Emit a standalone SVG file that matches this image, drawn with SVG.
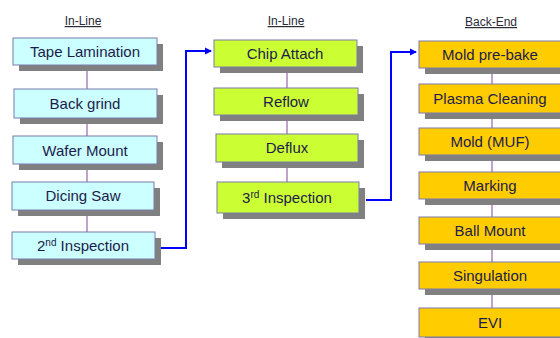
<svg xmlns="http://www.w3.org/2000/svg" width="560" height="338" viewBox="0 0 560 338">
<style>
.sh{fill:#808080}
.b{stroke:#7b7bab;stroke-width:1}
.c1{fill:#ccffff}
.c2{fill:#ccff33}
.c3{fill:#ffcc00}
.t{font-family:"Liberation Sans",Arial,sans-serif;font-size:15px;fill:#1c1c4c;text-anchor:middle}
.h{font-family:"Liberation Sans",Arial,sans-serif;font-size:12px;fill:#2a2a3a;text-anchor:middle;text-decoration:underline}
.v{stroke:#a070b0;stroke-width:1.3;fill:none}
.a{stroke:#0000ff;stroke-width:2;fill:none}
.sup{font-size:10px}
</style>
<defs>
<marker id="ar" markerWidth="8" markerHeight="8" refX="6" refY="4" orient="auto" markerUnits="userSpaceOnUse">
<path d="M0,0.5 L7,4 L0,7.5 z" fill="#0000ff"/>
</marker>
</defs>
<g id="headings">
<text class="h" x="83" y="25">In-Line</text>
<text class="h" x="286" y="25">In-Line</text>
<text class="h" x="491" y="26">Back-End</text>
</g>
<g id="connectors">
<line class="v" x1="87" y1="60" x2="87" y2="240"/>
<line class="v" x1="287" y1="60" x2="287" y2="190"/>
<line class="v" x1="492" y1="60" x2="492" y2="315"/>
<path class="a" d="M160 248 H186 V51 H211" marker-end="url(#ar)"/>
<path class="a" d="M366 200 H391 V52 H416" marker-end="url(#ar)"/>
</g>
<g id="n1"><rect class="sh" x="19" y="44" width="144" height="27"/><rect class="b c1" x="13" y="38" width="144" height="27"/><text class="t" x="85" y="57">Tape Lamination</text></g>
<g id="n2"><rect class="sh" x="20" y="95" width="143" height="29"/><rect class="b c1" x="14" y="89" width="143" height="29"/><text class="t" x="85" y="109">Back grind</text></g>
<g id="n3"><rect class="sh" x="19" y="142" width="144" height="28"/><rect class="b c1" x="13" y="136" width="144" height="28"/><text class="t" x="85" y="156">Wafer Mount</text></g>
<g id="n4"><rect class="sh" x="18" y="188" width="142" height="28"/><rect class="b c1" x="12" y="182" width="142" height="28"/><text class="t" x="83" y="201">Dicing Saw</text></g>
<g id="n5"><rect class="sh" x="18" y="238" width="143" height="27"/><rect class="b c1" x="12" y="232" width="143" height="27"/><text class="t" x="83" y="251">2<tspan class="sup" dy="-5">nd</tspan><tspan dy="5"> Inspection</tspan></text></g>
<g id="n6"><rect class="sh" x="220" y="46" width="143" height="27"/><rect class="b c2" x="214" y="40" width="143" height="27"/><text class="t" x="285" y="59">Chip Attach</text></g>
<g id="n7"><rect class="sh" x="220" y="94" width="144" height="27"/><rect class="b c2" x="214" y="88" width="144" height="27"/><text class="t" x="286" y="107">Reflow</text></g>
<g id="n8"><rect class="sh" x="222" y="140" width="142" height="28"/><rect class="b c2" x="216" y="134" width="142" height="28"/><text class="t" x="287" y="153">Deflux</text></g>
<g id="n9"><rect class="sh" x="223" y="188" width="142" height="31"/><rect class="b c2" x="217" y="182" width="142" height="31"/><text class="t" x="287" y="203">3<tspan class="sup" dy="-5">rd</tspan><tspan dy="5"> Inspection</tspan></text></g>
<g id="n10"><rect class="sh" x="425" y="47" width="142" height="27"/><rect class="b c3" x="419" y="41" width="142" height="27"/><text class="t" x="490" y="60">Mold pre-bake</text></g>
<g id="n11"><rect class="sh" x="425" y="90" width="142" height="29"/><rect class="b c3" x="419" y="84" width="142" height="29"/><text class="t" x="490" y="104">Plasma Cleaning</text></g>
<g id="n12"><rect class="sh" x="425" y="134" width="142" height="27"/><rect class="b c3" x="419" y="128" width="142" height="27"/><text class="t" x="490" y="147">Mold (MUF)</text></g>
<g id="n13"><rect class="sh" x="425" y="178" width="142" height="27"/><rect class="b c3" x="419" y="172" width="142" height="27"/><text class="t" x="490" y="191">Marking</text></g>
<g id="n14"><rect class="sh" x="425" y="223" width="142" height="27"/><rect class="b c3" x="419" y="217" width="142" height="27"/><text class="t" x="490" y="236">Ball Mount</text></g>
<g id="n15"><rect class="sh" x="425" y="268" width="142" height="27"/><rect class="b c3" x="419" y="262" width="142" height="27"/><text class="t" x="490" y="281">Singulation</text></g>
<g id="n16"><rect class="sh" x="425" y="314" width="142" height="29"/><rect class="b c3" x="419" y="308" width="142" height="29"/><text class="t" x="490" y="328">EVI</text></g>
</svg>
